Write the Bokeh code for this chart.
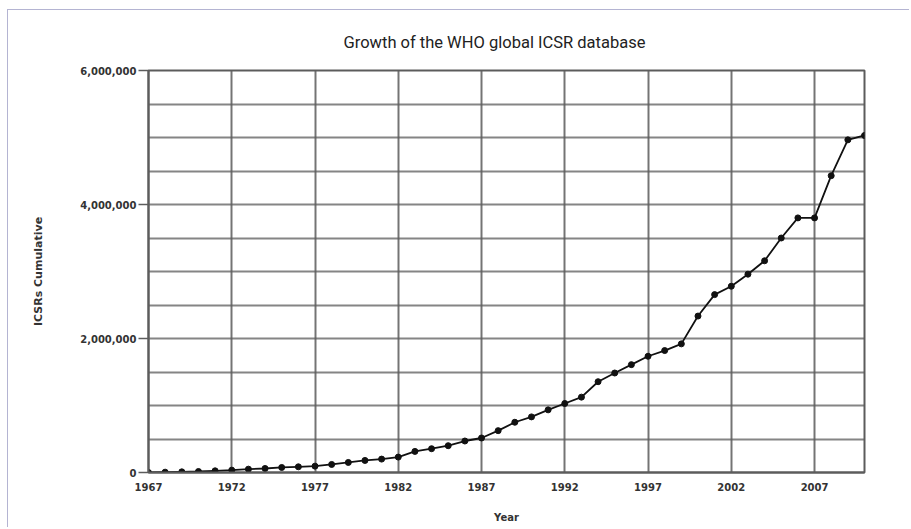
from bokeh.plotting import figure
from bokeh.models import FixedTicker, NumeralTickFormatter, Title
from bokeh.embed import file_html
from bokeh.resources import INLINE

years = list(range(1967, 2011))
icsrs_cumulative = [
    0, 5000, 10000, 15000, 25000, 35000, 50000, 60000, 75000, 85000,
    95000, 120000, 150000, 180000, 200000, 230000, 315000, 355000, 400000, 470000,
    515000, 625000, 750000, 830000, 935000, 1030000, 1125000, 1355000, 1485000, 1610000,
    1735000, 1820000, 1920000, 2335000, 2655000, 2780000, 2960000, 3160000, 3500000, 3800000,
    3800000, 4430000, 4965000, 5030000,
]
x_ticks = [1967, 1972, 1977, 1982, 1987, 1992, 1997, 2002, 2007]
y_major_ticks = [0, 2000000, 4000000, 6000000]
y_grid_ticks = [0, 500000, 1000000, 1500000, 2000000, 2500000, 3000000, 3500000,
                4000000, 4500000, 5000000, 5500000, 6000000]

title_text = "Growth of the WHO global ICSR database"
x_label = "Year"
y_label = "ICSRs Cumulative"

grid_color = "#5c5c5c"

p = figure(
    width=902, height=518,
    x_range=(1967, 2010), y_range=(0, 6000000),
    output_backend="svg", toolbar_location=None,
    min_border_left=140, min_border_right=46, min_border_top=60, min_border_bottom=56,
)
p.styles = {"border-top": "1px solid #b4b4d2", "border-left": "1px solid #b4b4d2",
            "margin-left": "7px", "margin-top": "9px"}

t = Title(text=title_text, align="left", offset=195, vertical_align="middle",
          text_font="Roboto", text_font_size="16.5px", text_font_style="normal",
          text_color="#222222", standoff=35)
p.add_layout(t, "above")

p.outline_line_color = grid_color
p.outline_line_width = 2
p.background_fill_color = "white"
p.border_fill_color = "white"

# grids
p.xgrid.ticker = FixedTicker(ticks=x_ticks)
p.ygrid.ticker = FixedTicker(ticks=y_grid_ticks)
p.xgrid.grid_line_color = grid_color
p.ygrid.grid_line_color = grid_color
p.xgrid.grid_line_width = 2
p.ygrid.grid_line_width = 2
p.xgrid.grid_line_alpha = 0.85
p.ygrid.grid_line_alpha = 0.75

# x axis
p.xaxis.ticker = FixedTicker(ticks=x_ticks)
p.xaxis.major_tick_out = 0
p.xaxis.major_tick_in = 0
p.xaxis.minor_tick_out = 0
p.xaxis.minor_tick_in = 0
p.xaxis.axis_line_color = grid_color
p.xaxis.axis_line_width = 2
p.xaxis.major_label_standoff = 10
p.xaxis.axis_label = x_label
p.xaxis.axis_label_standoff = 18

# y axis
p.yaxis.ticker = FixedTicker(ticks=y_major_ticks)
p.yaxis.formatter = NumeralTickFormatter(format="0,0")
p.yaxis.major_tick_out = 10
p.yaxis.major_tick_in = 0
p.yaxis.minor_tick_out = 0
p.yaxis.minor_tick_in = 0
p.yaxis.major_tick_line_color = grid_color
p.yaxis.major_tick_line_width = 1.5
p.yaxis.axis_line_color = grid_color
p.yaxis.axis_line_width = 2
p.yaxis.major_label_standoff = 2
p.yaxis.axis_label = y_label
p.yaxis.axis_label_standoff = 32

for ax in (p.xaxis[0], p.yaxis[0]):
    ax.major_label_text_font = "DejaVu Sans"
    ax.major_label_text_font_style = "bold"
    ax.major_label_text_font_size = "10px"
    ax.major_label_text_color = "#333333"
    ax.axis_label_text_font = "DejaVu Sans"
    ax.axis_label_text_font_style = "bold"
    ax.axis_label_text_font_size = "10px"
    ax.axis_label_text_color = "#333333"
p.yaxis.axis_label_text_font_size = "11px"

p.line(years, icsrs_cumulative, line_color="#111111", line_width=1.8)
p.scatter(years, icsrs_cumulative, size=6, fill_color="#111111", line_color="#111111")

open("out.html", "w").write(file_html(p, INLINE))
